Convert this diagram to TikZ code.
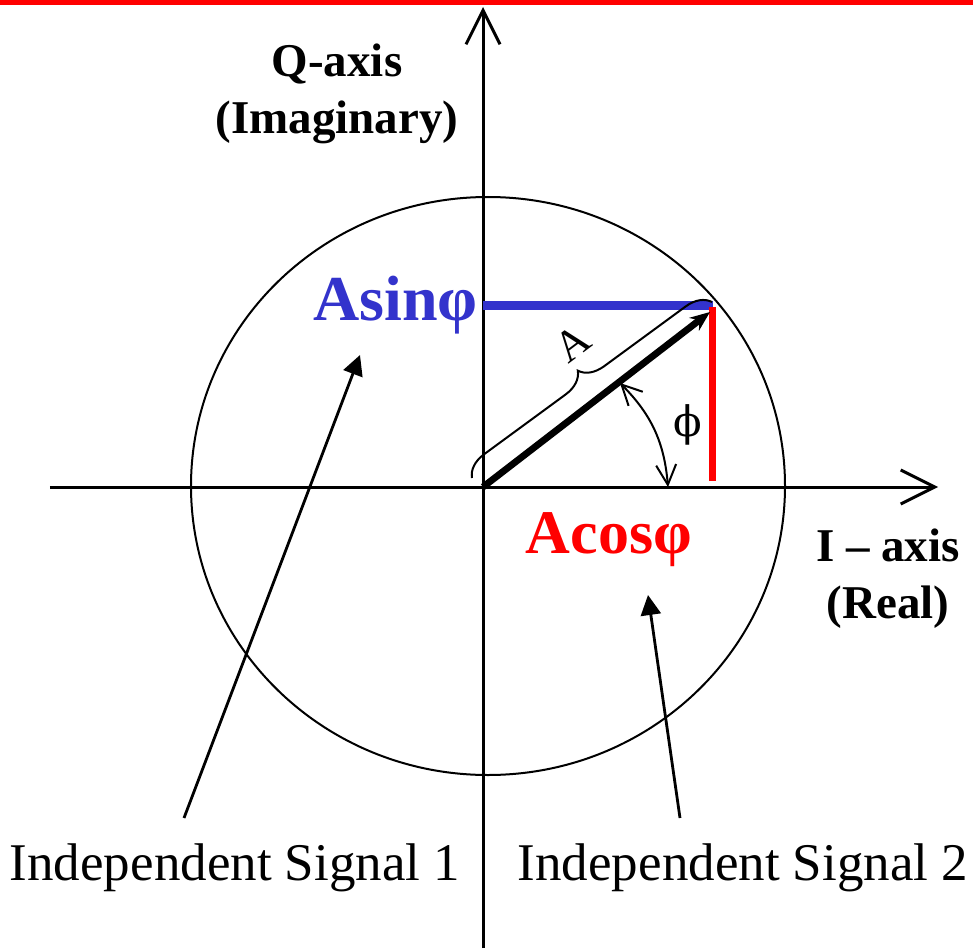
\documentclass[tikz,border=0pt]{standalone}
\usepackage{fontspec}
\setmainfont{Liberation Serif}
\newfontfamily\phifont{DejaVu Serif}
\usetikzlibrary{arrows.meta,decorations.pathreplacing}
\definecolor{asinblue}{RGB}{51,51,204}

\begin{document}
\begin{tikzpicture}[
  x=0.5pt,y=0.5pt,
  axis/.style={line width=1.5pt,-{Straight Barb[length=17pt,width=17pt,line width=1.5pt]}},
  pointer/.style={line width=1.4pt,-{Triangle[length=10pt,width=10pt]}},
  axislabel/.style={font=\fontsize{23.5}{28.5}\selectfont\bfseries,align=center},
  signal/.style={font=\fontsize{26.5}{30}\selectfont,inner sep=0pt},
  part/.style={font=\fontsize{32}{32}\selectfont\bfseries,inner sep=0pt}
]
\useasboundingbox (-483,-461) rectangle (490,487);
% red rule along the top
\draw[red,line width=2.5pt] (-483,484.5) -- (490,484.5);

% axes and circle
\coordinate (o) at (0,0);
\draw[axis] (-433,0) -- (455,0);
\draw[axis] (0,-461) -- (0,480);
\draw[line width=1pt] (5,1) ellipse (297 and 289);

\node[axislabel] (qaxis) at (-146,393) {Q-axis\\(Imaginary)};
\node[axislabel] (iaxis) at (405,-92) {I -- axis\\(Real)};

% components
\coordinate (tip) at (227,175);
\draw[asinblue,line width=4.5pt] (0,182) -- (230,182);
\draw[red,line width=3.5pt] (229,180) -- (229,6);
\draw[line width=3.4pt,-{Stealth[length=10pt,width=8pt]}] (o) -- (tip);

\node[part,text=asinblue,anchor=base east] (asin) at (-5,167) {Asinφ};
\node[part,text=red,anchor=base,font=\fontsize{31}{31}\selectfont\bfseries] (acos) at (126,-66) {Acosφ};

% amplitude brace
\coordinate (b1) at (-11,9);
\coordinate (b2) at (229,185);
\draw[line width=1pt,decorate,decoration={brace,amplitude=12pt}] (b1) -- (b2);
\node[rotate=37,font=\fontsize{22}{22}\selectfont] (amp) at (89,144) {A};

% phase angle
\coordinate (p1) at (137,104);
\coordinate (p2) at (185,0);
\draw[line width=1pt,{Straight Barb[length=10pt,width=10pt]}-{Straight Barb[length=10pt,width=10pt]}] (p1) to[bend left=20] (p2);
\node[font=\phifont\fontsize{21}{21}\selectfont] (phi) at (205,62) {ϕ};

% signals
\node[signal,anchor=base] (sig1) at (-248,-393) {Independent Signal 1};
\node[signal,anchor=base] (sig2) at (260,-393) {Independent Signal 2};
\coordinate (s1) at (-299,-331);
\coordinate (s2) at (197,-331);
\coordinate (t1) at (-123,132);
\coordinate (t2) at (165,-108);
\draw[pointer] (s1) -- (t1);
\draw[pointer] (s2) -- (t2);
\end{tikzpicture}
\end{document}
